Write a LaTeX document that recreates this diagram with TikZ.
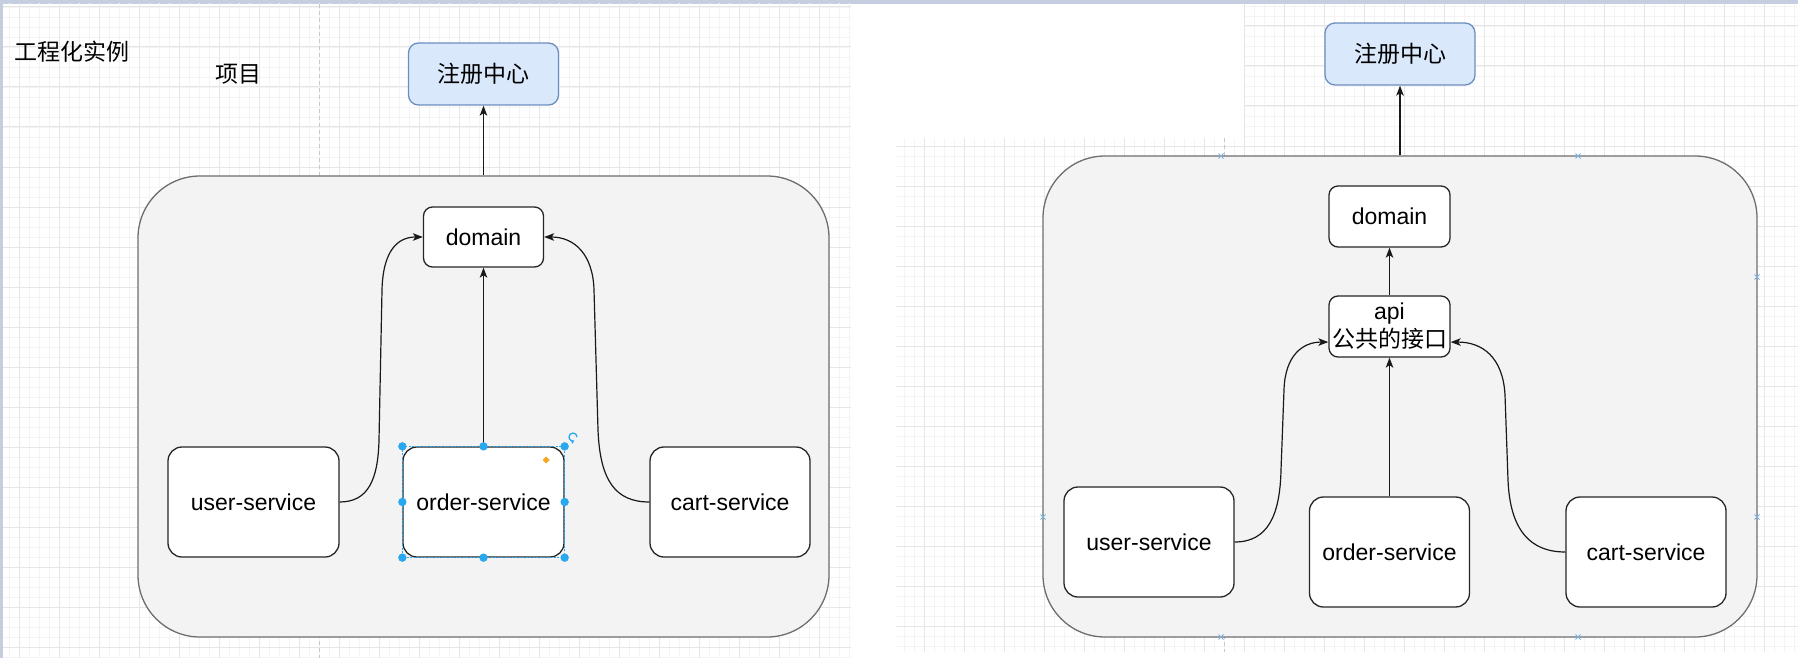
\documentclass[tikz,border=0pt]{standalone}
\usepackage{fontspec}
\setmainfont{Liberation Sans}
\newfontfamily\cjk{Noto Sans CJK SC}
\usetikzlibrary{arrows.meta,calc}
\definecolor{band}{HTML}{C5CDE0}
\definecolor{gmin}{HTML}{F4F4F4}
\definecolor{gmaj}{HTML}{E6E6E6}
\definecolor{contfill}{HTML}{F3F3F3}
\definecolor{contdraw}{HTML}{6E6E6E}
\definecolor{regfill}{HTML}{DAE8FC}
\definecolor{regdraw}{HTML}{6C8EBF}
\definecolor{sel}{HTML}{29A8F0}
\definecolor{markc}{HTML}{7AB3E0}
\definecolor{pagebrk}{HTML}{C8C8C8}
\definecolor{handleor}{HTML}{F5A623}
\begin{document}
\begin{tikzpicture}[x=1pt,y=-1pt,
  txt/.style={font=\fontsize{23}{28}\selectfont},
  svc/.style={draw=black!85, line width=1.3pt, fill=white, rounded corners=14pt, inner sep=0pt, txt, align=center},
  smallbox/.style={svc, rounded corners=9pt},
  reg/.style={draw=regdraw, fill=regfill, line width=1.3pt, rounded corners=10pt, inner sep=0pt, txt},
  cont/.style={draw=contdraw, fill=contfill, line width=1.3pt, rounded corners=62pt, inner sep=0pt},
  link/.style={draw=black!90, line width=1.2pt, -{Stealth[length=10pt,width=7.5pt,inset=2.5pt]}},
  gminor/.style={draw=gmin, line width=0.8pt},
  gmajor/.style={draw=gmaj, line width=1pt},
  brk/.style={draw=pagebrk, line width=0.8pt, dash pattern=on 4pt off 3pt},
  xmark/.style={draw=markc, line width=0.9pt}
]
\useasboundingbox (0,0) rectangle (1798,658);
\fill[white] (0,0) rectangle (1798,658);
% bands
\fill[band] (0,0) rectangle (1798,4);
\fill[band] (0,0) rectangle (3,658);
% left grid
\begin{scope}
\clip (3,4) rectangle (851,658);
\foreach \x in {9,19,...,859} \draw[gminor] (\x,0) -- (\x,660);
\foreach \y in {-3,7,...,667} \draw[gminor] (0,\y) -- (860,\y);
\foreach \x in {19,59,...,859} \draw[gmajor] (\x,0) -- (\x,660);
\foreach \y in {7,47,...,667} \draw[gmajor] (0,\y) -- (860,\y);
\end{scope}
% right grid
\begin{scope}
\clip (896,138) rectangle (1798,652) (1244,4) rectangle (1798,138);
\foreach \x in {894,904,...,1804} \draw[gminor] (\x,0) -- (\x,660);
\foreach \y in {-4,6,...,660} \draw[gminor] (880,\y) -- (1800,\y);
\foreach \x in {884,924,...,1804} \draw[gmajor] (\x,0) -- (\x,660);
\foreach \y in {-14,26,...,660} \draw[gmajor] (880,\y) -- (1800,\y);
\end{scope}
% page break lines
\draw[brk] (319,4) -- (319,658);
\draw[brk] (1224,138) -- (1224,652);

% ---------- left diagram ----------
\node[txt] (t1) at (72,52) {\cjk 工程化实例};
\node[txt] (t2) at (238,74) {\cjk 项目};
\node[cont, minimum width=691pt, minimum height=461pt] (c1) at (483.5,406.5) {};
\node[reg, minimum width=150pt, minimum height=62pt] (reg1) at (483.5,74) {\cjk 注册中心};
\node[smallbox, minimum width=120pt, minimum height=60pt] (dom1) at (483.5,237) {domain};
\node[svc, minimum width=171pt, minimum height=110pt] (us1) at (253.5,502) {user-service};
\node[svc, minimum width=161pt, minimum height=110pt] (os1) at (483.5,502) {order-service};
\node[svc, minimum width=160pt, minimum height=110pt] (cs1) at (730,502) {cart-service};

\draw[link] (c1.north) -- (reg1.south);
\draw[link] (os1.north) -- (dom1.south);
\draw[link] (us1.east) .. controls (368,502) and (378,480) .. (379,440) -- (382,290) .. controls (383,250) and (398,237) .. (dom1.west);
\draw[link] (cs1.west) .. controls (615,502) and (600,480) .. (598,430) -- (594,290) .. controls (593,255) and (575,237) .. (dom1.east);

% selection handles on order-service
\draw[sel, line width=0.8pt, dash pattern=on 2pt off 1.5pt] (os1.north west) rectangle (os1.south east);
\foreach \a in {north west,north,north east,west,east,south west,south,south east}
  \fill[sel] (os1.\a) circle (4.2pt);
\draw[sel, line width=1.3pt, -{Straight Barb[length=2pt,width=3pt]}] (577,437) arc[start angle=0, end angle=290, radius=4pt];
\fill[handleor] (546,456.5) -- (549.5,460) -- (546,463.5) -- (542.5,460) -- cycle;

% ---------- right diagram ----------
\node[cont, minimum width=714pt, minimum height=481pt] (c2) at (1400,396.5) {};
\node[reg, minimum width=150pt, minimum height=62pt] (reg2) at (1400,54) {\cjk 注册中心};
\node[smallbox, minimum width=121pt, minimum height=61pt] (dom2) at (1389.5,216.5) {domain};
\node[smallbox, minimum width=121pt, minimum height=61pt] (api) at (1389.5,326.5) {api\\{\cjk 公共的接口}};
\node[svc, minimum width=170pt, minimum height=110pt] (us2) at (1149,542) {user-service};
\node[svc, minimum width=160pt, minimum height=110pt] (os2) at (1389.5,552) {order-service};
\node[svc, minimum width=160pt, minimum height=110pt] (cs2) at (1646,552) {cart-service};

\coordinate (apiL) at ($(api.south west)!0.25!(api.north west)$);
\coordinate (apiR) at ($(api.south east)!0.25!(api.north east)$);

\draw[link] (c2.north) -- (reg2.south);
\draw[link] (api.north) -- (dom2.south);
\draw[link] (os2.north) -- (api.south);
\draw[link] (us2.east) .. controls (1268,542) and (1280,515) .. (1281,470) -- (1284,390) .. controls (1285,355) and (1303,342) .. (apiL);
\draw[link] (cs2.west) .. controls (1530,552) and (1510,530) .. (1508,480) -- (1505,395) .. controls (1503,357) and (1482,342) .. (apiR);

% connection markers on right container
\foreach \p in {(1221,156),(1578,156),(1043,517),(1757,517),(1757,277),(1221,637),(1578,637)}
  \draw[xmark] \p +(-2.5,-2.5) -- +(2.5,2.5) \p +(-2.5,2.5) -- +(2.5,-2.5);
\end{tikzpicture}
\end{document}
